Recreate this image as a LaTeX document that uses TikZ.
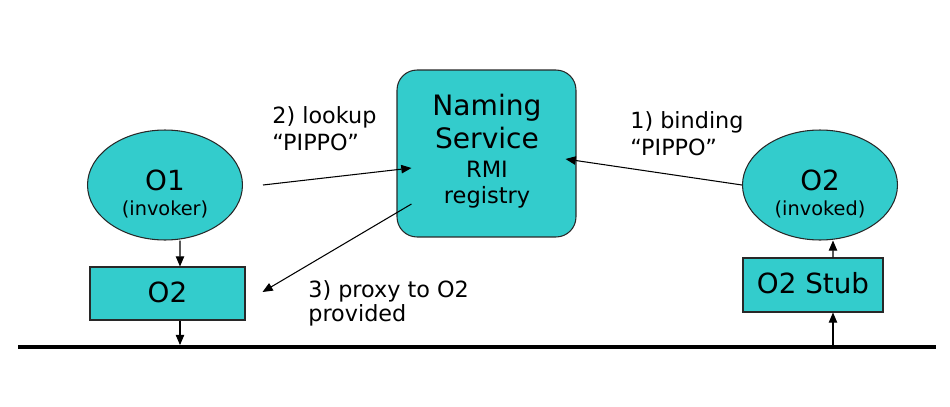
\documentclass[tikz,border=0pt]{standalone}
\usepackage{fontspec}
\setmainfont{DejaVu Sans}
\usetikzlibrary{shapes.geometric,arrows.meta}
\definecolor{objfill}{RGB}{51,204,204}
\definecolor{objline}{RGB}{40,40,40}
\begin{document}
\begin{tikzpicture}[x=0.02cm,y=-0.02cm,
				obj/.style={ellipse,draw=objline,line width=0.6pt,fill=objfill,minimum width=3.1cm,minimum height=2.2cm,inner sep=0pt},
				objbox/.style={rectangle,draw=objline,line width=0.6pt,fill=objfill,inner sep=0pt},
				big/.style={font=\fontsize{15.8}{18}\selectfont,anchor=base},
				mid/.style={font=\fontsize{12.8}{15}\selectfont,anchor=base},
				small/.style={font=\fontsize{11}{12}\selectfont,anchor=base},
				lbl/.style={font=\fontsize{12.7}{15}\selectfont,anchor=base west,inner sep=0pt},
				arr/.style={-{Triangle[length=5.8pt,width=4.8pt]},line width=0.6pt}]
\useasboundingbox (0,0) rectangle (950,406);
% objects
\node[obj] (o1) at (165,185) {};
\node[big] (o1name) at (165,190) {O1};
\node[small] (o1role) at (165,215) {(invoker)};
\node[objbox,minimum width=3.1cm,minimum height=1.06cm] (o2proxy) at (167.5,293.5) {};
\node[big] (proxyname) at (167.5,302) {O2};
\node[obj] (o2) at (820,185) {};
\node[big] (o2name) at (820,190) {O2};
\node[small] (o2role) at (820,215) {(invoked)};
\node[objbox,minimum width=2.8cm,minimum height=1.08cm] (o2stub) at (813,285) {};
\node[big] (stubname) at (813,293) {O2 Stub};
% naming service
\node[objbox,rounded corners=0.4cm,minimum width=3.58cm,minimum height=3.34cm] (naming) at (486.5,153.5) {};
\node[big,font=\fontsize{16}{18}\selectfont] (nstext1) at (487,115) {Naming};
\node[big,font=\fontsize{16}{18}\selectfont] (nstext2) at (487,148) {Service};
\node[mid] (rmi1) at (487,177) {RMI};
\node[mid] (rmi2) at (487,203) {registry};
% bus
\coordinate (busl) at (18,347);
\coordinate (busr) at (936,347);
\draw[line width=2.2pt] (busl) -- (busr);
% connectors
\draw[arr] ([xshift=0.3cm]o1.south) -- ([xshift=0.25cm]o2proxy.north);
\draw[arr,shorten >=1.1pt] ([xshift=0.25cm]o2proxy.south) -- ([xshift=0.25cm]o2proxy.south |- busl);
\draw[arr,shorten <=1.1pt] ([xshift=0.4cm]o2stub.south |- busr) -- ([xshift=0.4cm]o2stub.south);
\draw[arr] ([xshift=0.4cm]o2stub.north) -- ([xshift=0.26cm]o2.south);
\draw[arr] (o2.west) -- ([xshift=-0.22cm,yshift=-0.11cm]naming.east);
\draw[arr] ([xshift=0.4cm]o1.east) -- ([xshift=0.3cm,yshift=-0.29cm]naming.west);
\draw[arr] ([xshift=0.3cm,yshift=-1.01cm]naming.west) -- ([xshift=0.34cm,yshift=0.03cm]o2proxy.east);
% labels
\node[lbl] (lookup1) at (272,123) {2) lookup};
\node[lbl] (lookup2) at (272,150) {“PIPPO”};
\node[lbl] (bind1) at (630,128) {1) binding};
\node[lbl] (bind2) at (630,155) {“PIPPO”};
\node[lbl] (proxy1) at (308,297) {3) proxy to O2};
\node[lbl] (proxy2) at (308,321) {provided};
\end{tikzpicture}
\end{document}
